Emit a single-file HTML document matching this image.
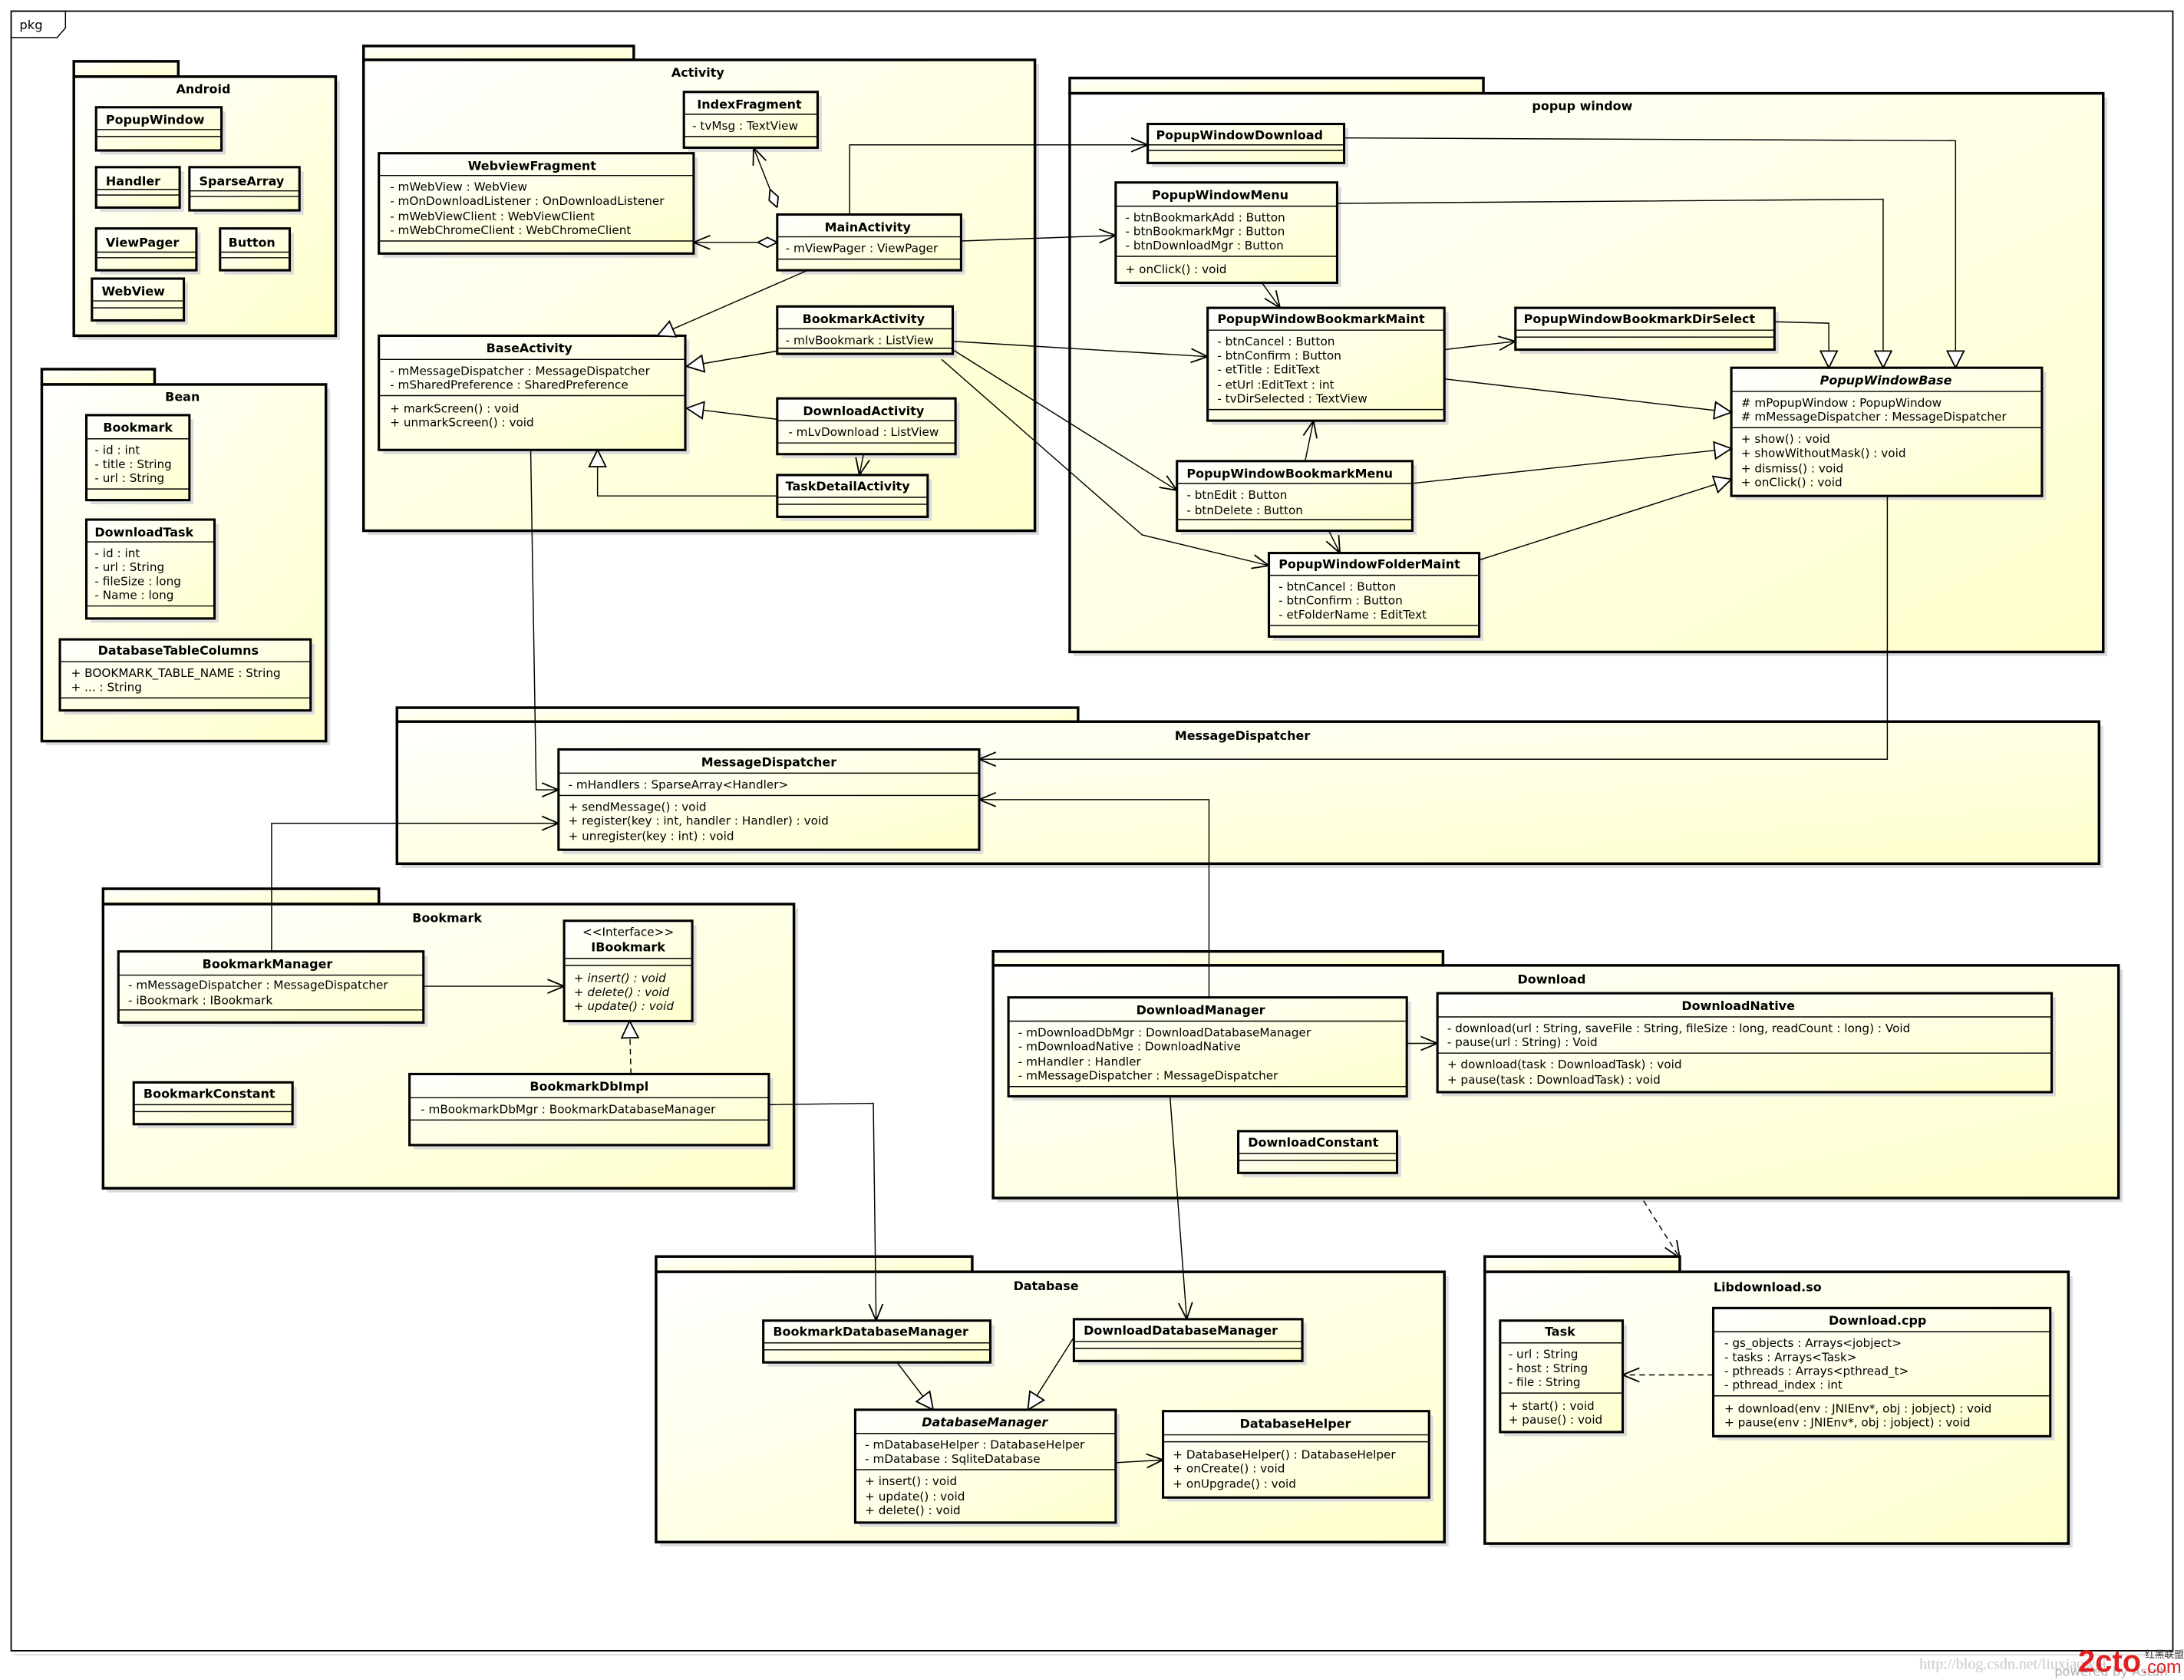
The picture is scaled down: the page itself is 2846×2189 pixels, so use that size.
<!DOCTYPE html>
<html><head><meta charset="utf-8">
<style>
html,body{margin:0;padding:0;background:#fff;}
svg{display:block;}
text{font-family:"DejaVu Sans","Liberation Sans",sans-serif;font-size:8.4px;fill:#000;}
.n{font-weight:bold;font-size:8.8px;text-anchor:middle;}
.ns{font-weight:bold;font-size:8.8px;}
.i{font-style:italic;}
.pt{font-weight:bold;font-size:8.8px;text-anchor:middle;}
.box{fill:url(#cg);stroke:#000;stroke-width:1.7;}
.pkg{fill:url(#pg);stroke:#000;stroke-width:1.9;}
.sh{fill:#dcdcdc;}
.sep{stroke:#000;stroke-width:0.8;}
.c{fill:none;stroke:#000;stroke-width:0.8;}
.cs{fill:none;stroke:#d8d8d8;stroke-width:0.8;}
</style></head>
<body>
<svg width="2846" height="2189" viewBox="0 0 1568 1206" preserveAspectRatio="none" xmlns="http://www.w3.org/2000/svg">
<defs>
<linearGradient id="pg" x1="0" y1="0" x2="1" y2="1"><stop offset="0" stop-color="#ffffff"/><stop offset="1" stop-color="#ffffcc"/></linearGradient>
<linearGradient id="cg" x1="0" y1="0" x2="1" y2="1"><stop offset="0" stop-color="#ffffff"/><stop offset="1" stop-color="#ffffcc"/></linearGradient>
<marker id="oa" viewBox="0 0 12 12" refX="12" refY="6" markerWidth="12" markerHeight="12" markerUnits="userSpaceOnUse" orient="auto"><path d="M0,1 L12,6 L0,11" fill="none" stroke="#000" stroke-width="1"/></marker>
<marker id="tr" viewBox="0 0 14 14" refX="13" refY="7" markerWidth="14" markerHeight="14" markerUnits="userSpaceOnUse" orient="auto"><path d="M1,1 L13,7 L1,13 Z" fill="#fff" stroke="#000" stroke-width="1"/></marker>
<marker id="dm" viewBox="0 0 14 8" refX="0" refY="4" markerWidth="14" markerHeight="8" markerUnits="userSpaceOnUse" orient="auto"><path d="M0,4 L7,0.5 L14,4 L7,7.5 Z" fill="#fff" stroke="#000" stroke-width="1"/></marker>
</defs>

<!-- frame -->
<rect x="8" y="8" width="1552" height="1177" fill="#fff" stroke="#000" stroke-width="1"/>
<line x1="10" y1="1188" x2="1562" y2="1188" stroke="#ddd" stroke-width="1"/>
<path d="M8,8 L47,8 L47,20 L41,27 L8,27" fill="none" stroke="#000" stroke-width="0.8"/>
<text x="14" y="21" style="font-size:9px">pkg</text>

<!-- ===== packages ===== -->
<g>
<rect class="sh" x="56" y="58" width="188" height="186"/>
<rect class="pkg" x="53" y="44" width="75" height="11"/>
<rect class="pkg" x="53" y="55" width="188" height="186"/>
<text class="pt" x="146" y="67">Android</text>

<rect class="sh" x="33" y="279" width="204" height="256"/>
<rect class="pkg" x="30" y="265" width="81" height="11"/>
<rect class="pkg" x="30" y="276" width="204" height="256"/>
<text class="pt" x="131" y="288">Bean</text>

<rect class="sh" x="264" y="46" width="482" height="338"/>
<rect class="pkg" x="261" y="33" width="194" height="10"/>
<rect class="pkg" x="261" y="43" width="482" height="338"/>
<text class="pt" x="501" y="55">Activity</text>

<rect class="sh" x="771" y="70" width="742" height="401"/>
<rect class="pkg" x="768" y="56" width="297" height="11"/>
<rect class="pkg" x="768" y="67" width="742" height="401"/>
<text class="pt" x="1136" y="79">popup window</text>

<rect class="sh" x="288" y="521" width="1222" height="102"/>
<rect class="pkg" x="285" y="508" width="489" height="10"/>
<rect class="pkg" x="285" y="518" width="1222" height="102"/>
<text class="pt" x="892" y="531">MessageDispatcher</text>

<rect class="sh" x="77" y="652" width="496" height="204"/>
<rect class="pkg" x="74" y="638" width="198" height="11"/>
<rect class="pkg" x="74" y="649" width="496" height="204"/>
<text class="pt" x="321" y="662">Bookmark</text>

<rect class="sh" x="716" y="696" width="808" height="167"/>
<rect class="pkg" x="713" y="683" width="323" height="10"/>
<rect class="pkg" x="713" y="693" width="808" height="167"/>
<text class="pt" x="1114" y="706">Download</text>

<rect class="sh" x="474" y="916" width="566" height="194"/>
<rect class="pkg" x="471" y="902" width="227" height="11"/>
<rect class="pkg" x="471" y="913" width="566" height="194"/>
<text class="pt" x="751" y="926">Database</text>

<rect class="sh" x="1069" y="916" width="419" height="195"/>
<rect class="pkg" x="1066" y="902" width="140" height="11"/>
<rect class="pkg" x="1066" y="913" width="419" height="195"/>
<text class="pt" x="1269" y="927">Libdownload.so</text>
</g>

<!-- ===== classes ===== -->
<!-- Android -->
<rect class="sh" x="72" y="80" width="90" height="31"/><rect class="box" x="69" y="77" width="90" height="31"/>
<text class="ns" x="76" y="89">PopupWindow</text><line class="sep" x1="69" y1="93" x2="159" y2="93"/><line class="sep" x1="69" y1="98" x2="159" y2="98"/>

<rect class="sh" x="72" y="123" width="60" height="29"/><rect class="box" x="69" y="120" width="60" height="29"/>
<text class="ns" x="76" y="133">Handler</text><line class="sep" x1="69" y1="136" x2="129" y2="136"/><line class="sep" x1="69" y1="140" x2="129" y2="140"/>

<rect class="sh" x="139" y="123" width="79" height="31"/><rect class="box" x="136" y="120" width="79" height="31"/>
<text class="ns" x="143" y="133">SparseArray</text><line class="sep" x1="136" y1="137" x2="215" y2="137"/><line class="sep" x1="136" y1="141" x2="215" y2="141"/>

<rect class="sh" x="72" y="167" width="72" height="30"/><rect class="box" x="69" y="164" width="72" height="30"/>
<text class="ns" x="76" y="177">ViewPager</text><line class="sep" x1="69" y1="181" x2="141" y2="181"/><line class="sep" x1="69" y1="185" x2="141" y2="185"/>

<rect class="sh" x="161" y="167" width="50" height="30"/><rect class="box" x="158" y="164" width="50" height="30"/>
<text class="ns" x="164" y="177">Button</text><line class="sep" x1="158" y1="181" x2="208" y2="181"/><line class="sep" x1="158" y1="185" x2="208" y2="185"/>

<rect class="sh" x="69" y="203" width="66" height="30"/><rect class="box" x="66" y="200" width="66" height="30"/>
<text class="ns" x="73" y="212">WebView</text><line class="sep" x1="66" y1="216" x2="132" y2="216"/><line class="sep" x1="66" y1="221" x2="132" y2="221"/>

<!-- Bean -->
<rect class="sh" x="65" y="301" width="74" height="61"/><rect class="box" x="62" y="298" width="74" height="61"/>
<text class="n" x="99" y="310">Bookmark</text><line class="sep" x1="62" y1="315" x2="136" y2="315"/>
<text x="68" y="326">- id : int</text><text x="68" y="336">- title : String</text><text x="68" y="346">- url : String</text>
<line class="sep" x1="62" y1="351" x2="136" y2="351"/>

<rect class="sh" x="65" y="376" width="92" height="71"/><rect class="box" x="62" y="373" width="92" height="71"/>
<text class="ns" x="68" y="385">DownloadTask</text><line class="sep" x1="62" y1="389" x2="154" y2="389"/>
<text x="68" y="400">- id : int</text><text x="68" y="410">- url : String</text><text x="68" y="420">- fileSize : long</text><text x="68" y="430">- Name : long</text>
<line class="sep" x1="62" y1="435" x2="154" y2="435"/>

<rect class="sh" x="46" y="462" width="180" height="51"/><rect class="box" x="43" y="459" width="180" height="51"/>
<text class="n" x="128" y="470">DatabaseTableColumns</text><line class="sep" x1="43" y1="475" x2="223" y2="475"/>
<text x="51" y="486">+ BOOKMARK_TABLE_NAME : String</text><text x="51" y="496">+ ... : String</text>
<line class="sep" x1="43" y1="501" x2="223" y2="501"/>

<!-- Activity -->
<rect class="sh" x="494" y="69" width="96" height="40"/><rect class="box" x="491" y="66" width="96" height="40"/>
<text class="n" x="538" y="78">IndexFragment</text><line class="sep" x1="491" y1="82" x2="587" y2="82"/>
<text x="497" y="93">- tvMsg : TextView</text><line class="sep" x1="491" y1="98" x2="587" y2="98"/>

<rect class="sh" x="275" y="113" width="226" height="72"/><rect class="box" x="272" y="110" width="226" height="72"/>
<text class="n" x="382" y="122">WebviewFragment</text><line class="sep" x1="272" y1="126" x2="498" y2="126"/>
<text x="280" y="137">- mWebView : WebView</text><text x="280" y="147">- mOnDownloadListener : OnDownloadListener</text><text x="280" y="158">- mWebViewClient : WebViewClient</text><text x="280" y="168">- mWebChromeClient : WebChromeClient</text>
<line class="sep" x1="272" y1="173" x2="498" y2="173"/>

<rect class="sh" x="561" y="157" width="132" height="40"/><rect class="box" x="558" y="154" width="132" height="40"/>
<text class="n" x="623" y="166">MainActivity</text><line class="sep" x1="558" y1="170" x2="690" y2="170"/>
<text x="564" y="181">- mViewPager : ViewPager</text><line class="sep" x1="558" y1="186" x2="690" y2="186"/>

<rect class="sh" x="275" y="244" width="220" height="82"/><rect class="box" x="272" y="241" width="220" height="82"/>
<text class="n" x="380" y="253">BaseActivity</text><line class="sep" x1="272" y1="258" x2="492" y2="258"/>
<text x="280" y="269">- mMessageDispatcher : MessageDispatcher</text><text x="280" y="279">- mSharedPreference : SharedPreference</text>
<line class="sep" x1="272" y1="284" x2="492" y2="284"/>
<text x="280" y="296">+ markScreen() : void</text><text x="280" y="306">+ unmarkScreen() : void</text>

<rect class="sh" x="561" y="223" width="126" height="34"/><rect class="box" x="558" y="220" width="126" height="34"/>
<text class="n" x="620" y="232">BookmarkActivity</text><line class="sep" x1="558" y1="236" x2="684" y2="236"/>
<text x="564" y="247">- mlvBookmark : ListView</text><line class="sep" x1="558" y1="250" x2="684" y2="250"/>

<rect class="sh" x="561" y="289" width="128" height="40"/><rect class="box" x="558" y="286" width="128" height="40"/>
<text class="n" x="620" y="298">DownloadActivity</text><line class="sep" x1="558" y1="302" x2="686" y2="302"/>
<text x="566" y="313">- mLvDownload : ListView</text><line class="sep" x1="558" y1="318" x2="686" y2="318"/>

<rect class="sh" x="561" y="344" width="108" height="30"/><rect class="box" x="558" y="341" width="108" height="30"/>
<text class="ns" x="564" y="352">TaskDetailActivity</text><line class="sep" x1="558" y1="357" x2="666" y2="357"/><line class="sep" x1="558" y1="362" x2="666" y2="362"/>

<!-- popup window -->
<rect class="sh" x="827" y="92" width="141" height="28"/><rect class="box" x="824" y="89" width="141" height="28"/>
<text class="ns" x="830" y="100">PopupWindowDownload</text><line class="sep" x1="824" y1="104" x2="965" y2="104"/><line class="sep" x1="824" y1="108" x2="965" y2="108"/>

<rect class="sh" x="804" y="134" width="159" height="72"/><rect class="box" x="801" y="131" width="159" height="72"/>
<text class="n" x="876" y="143">PopupWindowMenu</text><line class="sep" x1="801" y1="148" x2="960" y2="148"/>
<text x="808" y="159">- btnBookmarkAdd : Button</text><text x="808" y="169">- btnBookmarkMgr : Button</text><text x="808" y="179">- btnDownloadMgr : Button</text>
<line class="sep" x1="801" y1="184" x2="960" y2="184"/>
<text x="808" y="196">+ onClick() : void</text>

<rect class="sh" x="870" y="224" width="170" height="81"/><rect class="box" x="867" y="221" width="170" height="81"/>
<text class="ns" x="874" y="232">PopupWindowBookmarkMaint</text><line class="sep" x1="867" y1="237" x2="1037" y2="237"/>
<text x="874" y="248">- btnCancel : Button</text><text x="874" y="258">- btnConfirm : Button</text><text x="874" y="268">- etTitle : EditText</text><text x="874" y="279">- etUrl :EditText : int</text><text x="874" y="289">- tvDirSelected : TextView</text>
<line class="sep" x1="867" y1="294" x2="1037" y2="294"/>

<rect class="sh" x="1091" y="224" width="186" height="30"/><rect class="box" x="1088" y="221" width="186" height="30"/>
<text class="ns" x="1094" y="232">PopupWindowBookmarkDirSelect</text><line class="sep" x1="1088" y1="237" x2="1274" y2="237"/><line class="sep" x1="1088" y1="242" x2="1274" y2="242"/>

<rect class="sh" x="1246" y="267" width="223" height="92"/><rect class="box" x="1243" y="264" width="223" height="92"/>
<text class="n i" x="1354" y="276">PopupWindowBase</text><line class="sep" x1="1243" y1="281" x2="1466" y2="281"/>
<text x="1250" y="292"># mPopupWindow : PopupWindow</text><text x="1250" y="302"># mMessageDispatcher : MessageDispatcher</text>
<line class="sep" x1="1243" y1="307" x2="1466" y2="307"/>
<text x="1250" y="318">+ show() : void</text><text x="1250" y="328">+ showWithoutMask() : void</text><text x="1250" y="339">+ dismiss() : void</text><text x="1250" y="349">+ onClick() : void</text>

<rect class="sh" x="848" y="334" width="169" height="50"/><rect class="box" x="845" y="331" width="169" height="50"/>
<text class="ns" x="852" y="343">PopupWindowBookmarkMenu</text><line class="sep" x1="845" y1="347" x2="1014" y2="347"/>
<text x="852" y="358">- btnEdit : Button</text><text x="852" y="369">- btnDelete : Button</text>
<line class="sep" x1="845" y1="373" x2="1014" y2="373"/>

<rect class="sh" x="914" y="400" width="151" height="60"/><rect class="box" x="911" y="397" width="151" height="60"/>
<text class="ns" x="918" y="408">PopupWindowFolderMaint</text><line class="sep" x1="911" y1="413" x2="1062" y2="413"/>
<text x="918" y="424">- btnCancel : Button</text><text x="918" y="434">- btnConfirm : Button</text><text x="918" y="444">- etFolderName : EditText</text>
<line class="sep" x1="911" y1="449" x2="1062" y2="449"/>

<!-- MessageDispatcher -->
<rect class="sh" x="404" y="541" width="302" height="72"/><rect class="box" x="401" y="538" width="302" height="72"/>
<text class="n" x="552" y="550">MessageDispatcher</text><line class="sep" x1="401" y1="555" x2="703" y2="555"/>
<text x="408" y="566">- mHandlers : SparseArray&lt;Handler&gt;</text><line class="sep" x1="401" y1="571" x2="703" y2="571"/>
<text x="408" y="582">+ sendMessage() : void</text><text x="408" y="592">+ register(key : int, handler : Handler) : void</text><text x="408" y="603">+ unregister(key : int) : void</text>

<!-- Bookmark -->
<rect class="sh" x="408" y="664" width="92" height="72"/><rect class="box" x="405" y="661" width="92" height="72"/>
<text x="451" y="672" style="text-anchor:middle">&lt;&lt;Interface&gt;&gt;</text>
<text class="n" x="451" y="683">IBookmark</text><line class="sep" x1="405" y1="688" x2="497" y2="688"/><line class="sep" x1="405" y1="693" x2="497" y2="693"/>
<text class="i" x="412" y="705">+ insert() : void</text><text class="i" x="412" y="715">+ delete() : void</text><text class="i" x="412" y="725">+ update() : void</text>

<rect class="sh" x="88" y="686" width="219" height="51"/><rect class="box" x="85" y="683" width="219" height="51"/>
<text class="n" x="192" y="695">BookmarkManager</text><line class="sep" x1="85" y1="700" x2="304" y2="700"/>
<text x="92" y="710">- mMessageDispatcher : MessageDispatcher</text><text x="92" y="721">- iBookmark : IBookmark</text>
<line class="sep" x1="85" y1="725" x2="304" y2="725"/>

<rect class="sh" x="99" y="780" width="114" height="30"/><rect class="box" x="96" y="777" width="114" height="30"/>
<text class="ns" x="103" y="788">BookmarkConstant</text><line class="sep" x1="96" y1="793" x2="210" y2="793"/><line class="sep" x1="96" y1="798" x2="210" y2="798"/>

<rect class="sh" x="297" y="774" width="258" height="51"/><rect class="box" x="294" y="771" width="258" height="51"/>
<text class="n" x="423" y="783">BookmarkDbImpl</text><line class="sep" x1="294" y1="788" x2="552" y2="788"/>
<text x="302" y="799">- mBookmarkDbMgr : BookmarkDatabaseManager</text><line class="sep" x1="294" y1="804" x2="552" y2="804"/>

<!-- Download -->
<rect class="sh" x="727" y="719" width="286" height="71"/><rect class="box" x="724" y="716" width="286" height="71"/>
<text class="n" x="862" y="728">DownloadManager</text><line class="sep" x1="724" y1="733" x2="1010" y2="733"/>
<text x="731" y="744">- mDownloadDbMgr : DownloadDatabaseManager</text><text x="731" y="754">- mDownloadNative : DownloadNative</text><text x="731" y="765">- mHandler : Handler</text><text x="731" y="775">- mMessageDispatcher : MessageDispatcher</text>
<line class="sep" x1="724" y1="780" x2="1010" y2="780"/>

<rect class="sh" x="1035" y="716" width="441" height="71"/><rect class="box" x="1032" y="713" width="441" height="71"/>
<text class="n" x="1248" y="725">DownloadNative</text><line class="sep" x1="1032" y1="730" x2="1473" y2="730"/>
<text x="1039" y="741">- download(url : String, saveFile : String, fileSize : long, readCount : long) : Void</text><text x="1039" y="751">- pause(url : String) : Void</text>
<line class="sep" x1="1032" y1="756" x2="1473" y2="756"/>
<text x="1039" y="767">+ download(task : DownloadTask) : void</text><text x="1039" y="778">+ pause(task : DownloadTask) : void</text>

<rect class="sh" x="892" y="815" width="114" height="30"/><rect class="box" x="889" y="812" width="114" height="30"/>
<text class="ns" x="896" y="823">DownloadConstant</text><line class="sep" x1="889" y1="828" x2="1003" y2="828"/><line class="sep" x1="889" y1="833" x2="1003" y2="833"/>

<!-- Database -->
<rect class="sh" x="551" y="951" width="163" height="30"/><rect class="box" x="548" y="948" width="163" height="30"/>
<text class="ns" x="555" y="959">BookmarkDatabaseManager</text><line class="sep" x1="548" y1="964" x2="711" y2="964"/><line class="sep" x1="548" y1="969" x2="711" y2="969"/>

<rect class="sh" x="774" y="950" width="164" height="30"/><rect class="box" x="771" y="947" width="164" height="30"/>
<text class="ns" x="778" y="958">DownloadDatabaseManager</text><line class="sep" x1="771" y1="963" x2="935" y2="963"/><line class="sep" x1="771" y1="968" x2="935" y2="968"/>

<rect class="sh" x="617" y="1015" width="187" height="81"/><rect class="box" x="614" y="1012" width="187" height="81"/>
<text class="n i" x="707" y="1024">DatabaseManager</text><line class="sep" x1="614" y1="1029" x2="801" y2="1029"/>
<text x="621" y="1040">- mDatabaseHelper : DatabaseHelper</text><text x="621" y="1050">- mDatabase : SqliteDatabase</text>
<line class="sep" x1="614" y1="1055" x2="801" y2="1055"/>
<text x="621" y="1066">+ insert() : void</text><text x="621" y="1077">+ update() : void</text><text x="621" y="1087">+ delete() : void</text>

<rect class="sh" x="838" y="1016" width="191" height="62"/><rect class="box" x="835" y="1013" width="191" height="62"/>
<text class="n" x="930" y="1025">DatabaseHelper</text><line class="sep" x1="835" y1="1030" x2="1026" y2="1030"/><line class="sep" x1="835" y1="1035" x2="1026" y2="1035"/>
<text x="842" y="1047">+ DatabaseHelper() : DatabaseHelper</text><text x="842" y="1057">+ onCreate() : void</text><text x="842" y="1068">+ onUpgrade() : void</text>

<!-- Libdownload -->
<rect class="sh" x="1080" y="951" width="88" height="80"/><rect class="box" x="1077" y="948" width="88" height="80"/>
<text class="n" x="1120" y="959">Task</text><line class="sep" x1="1077" y1="964" x2="1165" y2="964"/>
<text x="1083" y="975">- url : String</text><text x="1083" y="985">- host : String</text><text x="1083" y="995">- file : String</text>
<line class="sep" x1="1077" y1="1000" x2="1165" y2="1000"/>
<text x="1083" y="1012">+ start() : void</text><text x="1083" y="1022">+ pause() : void</text>

<rect class="sh" x="1233" y="942" width="242" height="92"/><rect class="box" x="1230" y="939" width="242" height="92"/>
<text class="n" x="1348" y="951">Download.cpp</text><line class="sep" x1="1230" y1="956" x2="1472" y2="956"/>
<text x="1238" y="967">- gs_objects : Arrays&lt;jobject&gt;</text><text x="1238" y="977">- tasks : Arrays&lt;Task&gt;</text><text x="1238" y="987">- pthreads : Arrays&lt;pthread_t&gt;</text><text x="1238" y="997">- pthread_index : int</text>
<line class="sep" x1="1230" y1="1002" x2="1472" y2="1002"/>
<text x="1238" y="1014">+ download(env : JNIEnv*, obj : jobject) : void</text><text x="1238" y="1024">+ pause(env : JNIEnv*, obj : jobject) : void</text>

<!-- ===== connectors ===== -->
<g>
<!-- Main -> IndexFragment (aggregation) -->
<path class="c" d="M558,149 L541,106" marker-start="url(#dm)" marker-end="url(#oa)"/>
<!-- Main -> WebviewFragment -->
<path class="c" d="M558,174 L498,174" marker-start="url(#dm)" marker-end="url(#oa)"/>
<!-- Main -> PopupWindowDownload -->
<path class="c" d="M610,154 L610,104 L824,104" marker-end="url(#oa)"/>
<!-- Main -> PopupWindowMenu -->
<path class="c" d="M690,173 L801,169" marker-end="url(#oa)"/>
<!-- Main -> BaseActivity -->
<path class="c" d="M580,194 L472,241" marker-end="url(#tr)"/>
<path class="c" d="M558,252 L493,263" marker-end="url(#tr)"/>
<path class="c" d="M558,301 L493,293" marker-end="url(#tr)"/>
<path class="c" d="M620,326 L617,341" marker-end="url(#oa)"/>
<path class="c" d="M558,356 L429,356 L429,323" marker-end="url(#tr)"/>
<!-- BookmarkActivity -> popups -->
<path class="c" d="M684,245 L867,256" marker-end="url(#oa)"/>
<path class="c" d="M684,251 L845,352" marker-end="url(#oa)"/>
<path class="c" d="M676,258 L820,384 L911,406" marker-end="url(#oa)"/>
<!-- popup generalizations -->
<path class="c" d="M965,99 L1404,101 L1404,264" marker-end="url(#tr)"/>
<path class="c" d="M960,146 L1352,143 L1352,264" marker-end="url(#tr)"/>
<path class="c" d="M906,203 L919,221" marker-end="url(#oa)"/>
<path class="c" d="M1037,251 L1088,245" marker-end="url(#oa)"/>
<path class="c" d="M1274,231 L1313,232 L1313,264" marker-end="url(#tr)"/>
<path class="c" d="M1037,272 L1243,296" marker-end="url(#tr)"/>
<path class="c" d="M937,331 L943,302" marker-end="url(#oa)"/>
<path class="c" d="M1014,347 L1243,322" marker-end="url(#tr)"/>
<path class="c" d="M954,381 L962,397" marker-end="url(#oa)"/>
<path class="c" d="M1062,402 L1243,344" marker-end="url(#tr)"/>
<!-- to MessageDispatcher -->
<path class="c" d="M1355,356 L1355,545 L703,545" marker-end="url(#oa)"/>
<path class="c" d="M381,323 L385,567 L401,567" marker-end="url(#oa)"/>
<path class="c" d="M195,683 L195,591 L401,591" marker-end="url(#oa)"/>
<path class="c" d="M868,716 L868,574 L703,574" marker-end="url(#oa)"/>
<!-- bookmark -->
<path class="c" d="M304,708 L405,708" marker-end="url(#oa)"/>
<path class="c" d="M453,771 L452,733" stroke-dasharray="4,3" marker-end="url(#tr)"/>
<path class="c" d="M552,793 L627,792 L629,948" marker-end="url(#oa)"/>
<!-- download -->
<path class="c" d="M840,787 L852,947" marker-end="url(#oa)"/>
<path class="c" d="M1010,749 L1032,749" marker-end="url(#oa)"/>
<path class="c" d="M1180,862 L1206,903" stroke-dasharray="4,3" marker-end="url(#oa)"/>
<path class="c" d="M1230,987 L1165,987" stroke-dasharray="4,3" marker-end="url(#oa)"/>
<!-- database -->
<path class="c" d="M644,978 L670,1012" marker-end="url(#tr)"/>
<path class="c" d="M771,960 L738,1012" marker-end="url(#tr)"/>
<path class="c" d="M801,1050 L835,1048" marker-end="url(#oa)"/>
</g>

<!-- watermark -->
<text x="1378" y="1198" style="font-family:'Liberation Serif',serif;font-size:11px;fill:#c8c8c8">http://blog.csdn.net/liuxiaowei</text>
<text x="1475" y="1203" style="font-size:9px;fill:#b0b0b0">powered by Astah</text>
<text x="1492" y="1200" style="font-family:'Liberation Sans',sans-serif;font-size:22px;font-weight:bold;fill:#e02020">2cto</text>
<text x="1538" y="1201" style="font-family:'Liberation Sans',sans-serif;font-size:13px;fill:#e02020">.com</text>
<text x="1540" y="1190" style="font-family:'Noto Sans CJK SC',sans-serif;font-size:7px;fill:#333">红黑联盟</text>
</svg>
</body></html>
